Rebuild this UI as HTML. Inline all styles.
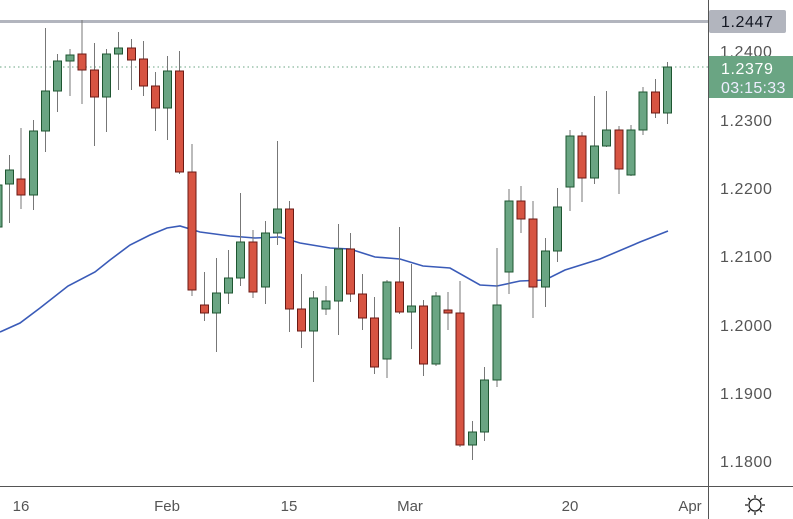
<!DOCTYPE html>
<html><head><meta charset="utf-8"><style>
body{margin:0;background:#fff;}
svg{display:block;font-family:"Liberation Sans",sans-serif;}
</style></head><body>
<svg width="793" height="519" viewBox="0 0 793 519" xmlns="http://www.w3.org/2000/svg">
<rect width="793" height="519" fill="#fff"/>
<line x1="0" y1="67" x2="708" y2="67" stroke="#6aa583" stroke-dasharray="1.5,3" stroke-width="1"/>
<line x1="0" y1="21.5" x2="708" y2="21.5" stroke="#b2b5be" stroke-width="3"/>
<polyline fill="none" stroke="#3a5bb8" stroke-width="1.6" points="0,332 20,323 40,308 68,286 95,272 110,260 130,245 150,235 167,228 180,226 200,232 230,236 255,238 280,237 300,243 330,248 350,249 375,257 400,259 423,266 450,268 480,285 497,286 520,281 545,280 565,270 600,259 640,242 668,231"/>
<g id="c"></g>
<line x1="708.5" y1="0" x2="708.5" y2="519" stroke="#555" stroke-width="1"/>
<line x1="0" y1="486.5" x2="793" y2="486.5" stroke="#555" stroke-width="1"/>
<g font-size="16" fill="#555" letter-spacing="0.6">
<text x="720" y="57">1.2400</text>
<text x="720" y="126">1.2300</text>
<text x="720" y="194">1.2200</text>
<text x="720" y="262">1.2100</text>
<text x="720" y="331">1.2000</text>
<text x="720" y="399">1.1900</text>
<text x="720" y="467">1.1800</text>
</g>
<rect x="709" y="10" width="77" height="23" rx="2" fill="#b2b5be"/>
<text x="721" y="27" font-size="16" letter-spacing="0.6" fill="#131722">1.2447</text>
<rect x="709" y="56" width="84" height="42" fill="#6aa583"/>
<text x="721" y="74" font-size="16" letter-spacing="0.6" fill="#fff">1.2379</text>
<text x="721" y="93" font-size="16" letter-spacing="0.3" fill="#eef">03:15:33</text>
<g font-size="15" fill="#555" text-anchor="middle">
<text x="21" y="511">16</text>
<text x="167" y="511">Feb</text>
<text x="289" y="511">15</text>
<text x="410" y="511">Mar</text>
<text x="570" y="511">20</text>
<text x="690" y="511">Apr</text>
</g>
<g stroke="#222" stroke-width="1.3" fill="none">
<circle cx="755" cy="505" r="6"/>
<line x1="755" y1="495" x2="755" y2="498"/><line x1="755" y1="512" x2="755" y2="515"/>
<line x1="745" y1="505" x2="748" y2="505"/><line x1="762" y1="505" x2="765" y2="505"/>
<line x1="748" y1="498" x2="750" y2="500"/><line x1="760" y1="510" x2="762" y2="512"/>
<line x1="762" y1="498" x2="760" y2="500"/><line x1="748" y1="512" x2="750" y2="510"/>
</g>
</svg>
<script>
var d=[
[-2,'g',185,227,170,235],[9.5,'g',170,184,155,223],[21,'r',179,195,128,209],[33.5,'g',131,195,120,210],
[45.5,'g',91,131,28,152],[57.5,'g',61,91,54,112],[70,'g',55,61,49,96],[82,'r',54,70,20,104],
[94.5,'r',70,97,43,146],[106.5,'g',54,97,49,132],[118.5,'g',48,54,32,90],[131.5,'r',48,60,39,90],
[143.5,'r',59,86,41,96],[155.5,'r',86,108,72,131],[167.5,'g',71,108,56,140],[179.5,'r',71,172,51,174],
[192,'r',172,290,144,296],[204.5,'r',305,313,272,321],[216.5,'g',293,313,258,352],[228.5,'g',278,293,250,304],
[240.5,'g',242,278,193,286],[253,'r',242,292,230,298],[265.5,'g',233,287,221,304],[277.5,'g',209,233,141,245],
[289.5,'r',209,309,201,332],[301.5,'r',309,331,274,348],[313.5,'g',298,331,291,382],[326,'g',301,309,286,315],
[338.5,'g',249,301,224,335],[350.5,'r',249,294,233,302],[362.5,'r',294,318,274,330],[374.5,'r',318,367,297,374],
[387,'g',282,359,280,378],[399.5,'r',282,312,227,314],[411.5,'g',306,312,264,349],[423.5,'r',306,364,300,376],
[436,'g',296,364,292,366],[448,'r',310,313,292,330],[460,'r',313,445,281,447],[472.5,'g',432,445,421,460],
[484.5,'g',380,432,367,441],[497,'g',305,380,248,387],[509,'g',201,272,189,294],[521,'r',201,219,186,233],
[533,'r',219,287,201,318],[545.5,'g',251,287,238,307],[557.5,'g',207,251,188,262],[570,'g',136,187,130,211],
[582,'r',136,178,132,202],[594.5,'g',146,178,96,184],[606.5,'g',130,146,91,147],[619,'r',130,169,126,194],
[631,'g',130,175,125,176],[643,'g',92,130,87,135],[655.5,'r',92,113,79,118],[667.5,'g',67,113,62,124]];
var s='';
d.forEach(function(c){var x=c[0],g=c[1]=='g';
s+='<line x1="'+x+'" y1="'+c[4]+'" x2="'+x+'" y2="'+c[5]+'" stroke="#777" stroke-width="1"/>';
s+='<rect x="'+(x-4)+'" y="'+c[2]+'" width="8" height="'+Math.max(c[3]-c[2],2)+'" fill="'+(g?'#6aa583':'#d75442')+'" stroke="'+(g?'#1e5631':'#6b1a14')+'" stroke-width="1"/>';});
document.getElementById('c').innerHTML=s;
</script>
</body></html>
